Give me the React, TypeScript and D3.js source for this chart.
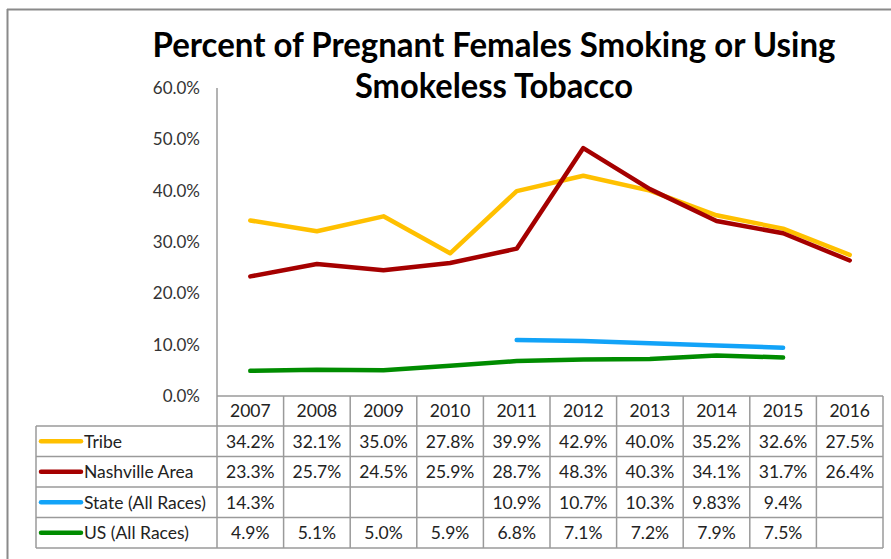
import React from 'react';
import * as d3 from 'd3';

const years = ['2007', '2008', '2009', '2010', '2011', '2012', '2013', '2014', '2015', '2016'];
const tribe: (number | null)[] = [34.2, 32.1, 35.0, 27.8, 39.9, 42.9, 40.0, 35.2, 32.6, 27.5];
const nashville: (number | null)[] = [23.3, 25.7, 24.5, 25.9, 28.7, 48.3, 40.3, 34.1, 31.7, 26.4];
const stateAll: (number | null)[] = [14.3, null, null, null, 10.9, 10.7, 10.3, 9.83, 9.4, null];
const usAll: (number | null)[] = [4.9, 5.1, 5.0, 5.9, 6.8, 7.1, 7.2, 7.9, 7.5, null];
const yTicks = [0, 10, 20, 30, 40, 50, 60];

const series = [
  { name: 'Tribe', values: tribe, color: '#FFC000' },
  { name: 'Nashville Area', values: nashville, color: '#A50000' },
  { name: 'State (All Races)', values: stateAll, color: '#12A3F8' },
  { name: 'US (All Races)', values: usAll, color: '#008C00' },
];

const W = 891;
const H = 559;
const tableLeft = 36;
const colLeft = 217;
const colRight = 883;
const tableTop = 396;
const headerBottom = 426;
const rowH = 30.5;
const font = 'Lato, "Open Sans", sans-serif';
const fs = 17.5;

function fmt(v: number | null) {
  if (v == null) return '';
  const r = Math.round(v * 10) / 10;
  return (Math.abs(r - v) < 1e-9 ? v.toFixed(1) : String(v)) + '%';
}

export default function App() {
  const x = d3.scaleBand<string>().domain(years).range([colLeft, colRight]);
  const y = d3.scaleLinear().domain([0, 60]).range([tableTop, 88]);
  const cx = (i: number) => (x(years[i]) as number) + x.bandwidth() / 2;

  const mkLine = (vals: (number | null)[]) =>
    d3
      .line<number | null>()
      .defined((d, i) => d != null && (vals[i - 1] != null || vals[i + 1] != null))
      .x((_, i) => cx(i))
      .y((d) => y(d as number))(vals) || '';

  const rows = series.length;
  const tableBottom = headerBottom + rowH * rows;
  const gridColor = '#9a9a9a';

  return (
    <svg width={W} height={H} style={{ position: 'absolute', left: 0, top: 0, background: '#fff' }}>
      <rect x={0} y={0} width={W} height={H} fill="#fff" />
      {/* outer frame */}
      <line x1={7.5} y1={9} x2={7.5} y2={H} stroke="#8a8a8a" strokeWidth={2} />
      <line x1={7} y1={9.5} x2={W} y2={9.5} stroke="#8a8a8a" strokeWidth={2} />

      {/* title */}
      <text x={494} y={57} textAnchor="middle" fontFamily={font} fontWeight={700} fontSize={34}
        textLength={683} lengthAdjust="spacingAndGlyphs" fill="#000">
        Percent of Pregnant Females Smoking or Using
      </text>
      <text x={494} y={98} textAnchor="middle" fontFamily={font} fontWeight={700} fontSize={34}
        textLength={278} lengthAdjust="spacingAndGlyphs" fill="#000">
        Smokeless Tobacco
      </text>

      {/* y axis */}
      <line x1={colLeft} y1={y(60)} x2={colLeft} y2={tableTop} stroke={gridColor} strokeWidth={1.5} />
      {yTicks.map((t) => (
        <text key={t} x={200} y={y(t)} dy="0.35em" textAnchor="end" fontFamily={font} fontSize={17} fill="#333">
          {t.toFixed(1)}%
        </text>
      ))}

      {/* lines */}
      {series.map((s) => (
        <path key={s.name} d={mkLine(s.values)} fill="none" stroke={s.color} strokeWidth={4.5}
          strokeLinejoin="round" strokeLinecap="round" />
      ))}

      {/* data table */}
      <g stroke={gridColor} strokeWidth={1.5}>
        <line x1={colLeft} y1={tableTop} x2={colRight} y2={tableTop} />
        {[0, 1, 2, 3, 4].map((r) => (
          <line key={r} x1={tableLeft} y1={headerBottom + r * rowH} x2={colRight} y2={headerBottom + r * rowH} />
        ))}
        <line x1={tableLeft} y1={headerBottom} x2={tableLeft} y2={tableBottom} />
        {years.map((yr) => (
          <line key={yr} x1={x(yr) as number} y1={tableTop} x2={x(yr) as number} y2={tableBottom} />
        ))}
        <line x1={colRight} y1={tableTop} x2={colRight} y2={tableBottom} />
      </g>
      {years.map((yr, i) => (
        <text key={yr} x={cx(i)} y={(tableTop + headerBottom) / 2} dy="0.36em" textAnchor="middle"
          fontFamily={font} fontSize={fs} fill="#222">
          {yr}
        </text>
      ))}
      {series.map((s, r) => {
        const cy = headerBottom + r * rowH + rowH / 2;
        return (
          <g key={s.name}>
            <line x1={41} y1={cy} x2={81} y2={cy} stroke={s.color} strokeWidth={4.5} strokeLinecap="round" />
            <text x={84} y={cy} dy="0.36em" fontFamily={font} fontSize={fs} fill="#222">
              {s.name}
            </text>
            {s.values.map((v, i) => (
              <text key={i} x={cx(i)} y={cy} dy="0.36em" textAnchor="middle" fontFamily={font} fontSize={fs} fill="#222">
                {fmt(v)}
              </text>
            ))}
          </g>
        );
      })}
    </svg>
  );
}
